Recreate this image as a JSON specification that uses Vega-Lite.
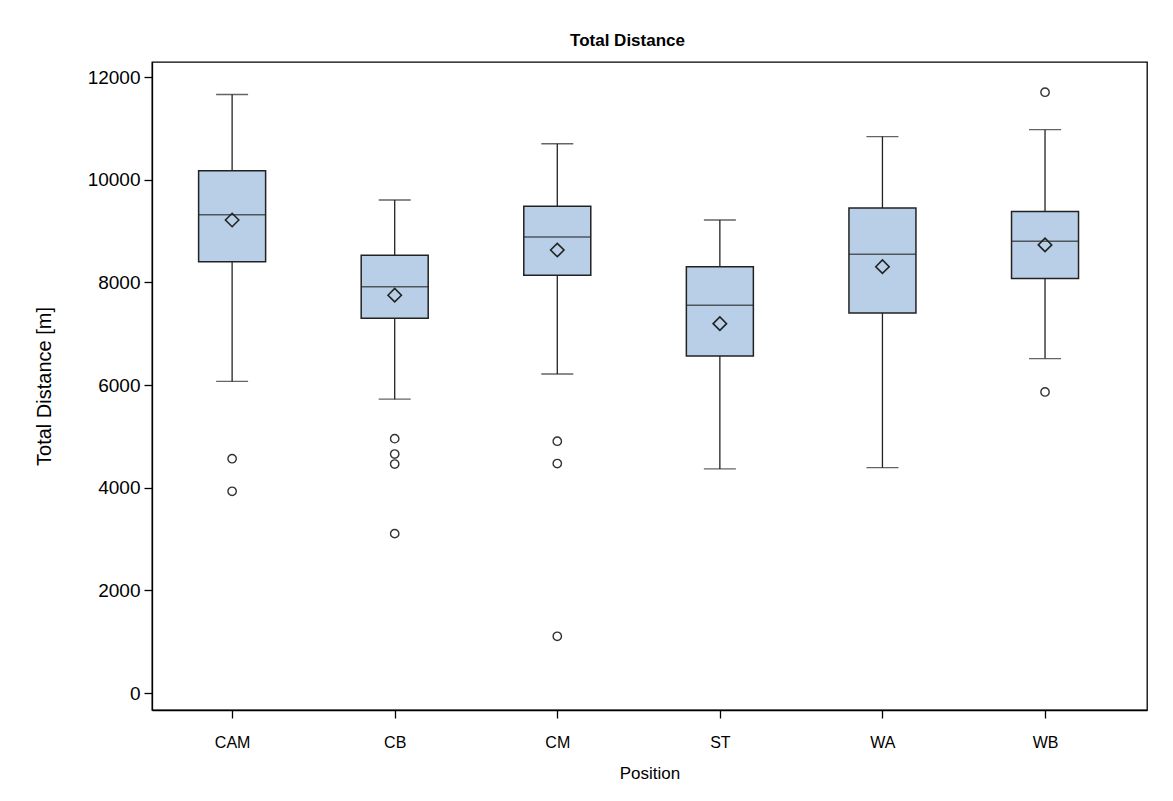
{
  "$schema": "https://vega.github.io/schema/vega-lite/v6.json",
  "width": 995,
  "height": 648,
  "autosize": {"type": "none"},
  "padding": {"left": 152, "top": 62, "right": 26, "bottom": 91},
  "background": "white",
  "title": {"text": "Total Distance", "fontSize": 17, "font": "Liberation Sans", "fontWeight": "bold", "color": "#000", "offset": 12, "anchor": "middle", "dx": -22},
  "datasets": {
    "stats": [
      {"pos": "CAM", "lo": 6070, "q1": 8400, "med": 9315, "q3": 10175, "hi": 11660, "mean": 9215},
      {"pos": "CB", "lo": 5725, "q1": 7300, "med": 7915, "q3": 8530, "hi": 9605, "mean": 7750},
      {"pos": "CM", "lo": 6215, "q1": 8140, "med": 8885, "q3": 9485, "hi": 10700, "mean": 8630},
      {"pos": "ST", "lo": 4365, "q1": 6565, "med": 7555, "q3": 8305, "hi": 9215, "mean": 7195},
      {"pos": "WA", "lo": 4390, "q1": 7405, "med": 8550, "q3": 9450, "hi": 10840, "mean": 8305},
      {"pos": "WB", "lo": 6515, "q1": 8075, "med": 8800, "q3": 9380, "hi": 10975, "mean": 8730}
    ],
    "outliers": [
      {"pos": "CAM", "value": 4565},
      {"pos": "CAM", "value": 3930},
      {"pos": "CB", "value": 4955},
      {"pos": "CB", "value": 4655},
      {"pos": "CB", "value": 4460},
      {"pos": "CB", "value": 3105},
      {"pos": "CM", "value": 4905},
      {"pos": "CM", "value": 4470},
      {"pos": "CM", "value": 1105},
      {"pos": "WB", "value": 11705},
      {"pos": "WB", "value": 5865}
    ]
  },
  "encoding": {
    "x": {
      "field": "pos", "type": "nominal", "title": "Position",
      "scale": {"type": "point", "domain": ["CAM", "CB", "CM", "ST", "WA", "WB"], "padding": 0.56, "align": 0.44},
      "axis": {"labelAngle": 0}
    }
  },
  "layer": [
    {
      "data": {"name": "stats"},
      "mark": {"type": "rule", "color": "#222", "strokeWidth": 1.3},
      "encoding": {
        "y": {"field": "lo", "type": "quantitative", "title": "Total Distance [m]", "scale": {"domain": [-331, 12293], "nice": false, "zero": false}, "axis": {"values": [0, 2000, 4000, 6000, 8000, 10000, 12000], "format": "d"}},
        "y2": {"field": "hi"}
      }
    },
    {
      "data": {"name": "stats"},
      "mark": {"type": "tick", "color": "#222", "size": 32, "thickness": 1.3},
      "encoding": {
        "y": {"field": "lo", "type": "quantitative", "title": "Total Distance [m]", "scale": {"domain": [-331, 12293], "nice": false, "zero": false}, "axis": {"values": [0, 2000, 4000, 6000, 8000, 10000, 12000], "format": "d"}}
      }
    },
    {
      "data": {"name": "stats"},
      "mark": {"type": "tick", "color": "#222", "size": 32, "thickness": 1.3},
      "encoding": {
        "y": {"field": "hi", "type": "quantitative", "title": "Total Distance [m]", "scale": {"domain": [-331, 12293], "nice": false, "zero": false}, "axis": {"values": [0, 2000, 4000, 6000, 8000, 10000, 12000], "format": "d"}}
      }
    },
    {
      "data": {"name": "stats"},
      "mark": {"type": "bar", "size": 67, "fill": "#b9cfe7", "stroke": "#222", "strokeWidth": 1.5},
      "encoding": {
        "y": {"field": "q1", "type": "quantitative", "title": "Total Distance [m]", "scale": {"domain": [-331, 12293], "nice": false, "zero": false}, "axis": {"values": [0, 2000, 4000, 6000, 8000, 10000, 12000], "format": "d"}},
        "y2": {"field": "q3"}
      }
    },
    {
      "data": {"name": "stats"},
      "mark": {"type": "tick", "color": "#222", "size": 67, "thickness": 1.5},
      "encoding": {
        "y": {"field": "med", "type": "quantitative", "title": "Total Distance [m]", "scale": {"domain": [-331, 12293], "nice": false, "zero": false}, "axis": {"values": [0, 2000, 4000, 6000, 8000, 10000, 12000], "format": "d"}}
      }
    },
    {
      "data": {"name": "stats"},
      "mark": {"type": "point", "shape": "diamond", "filled": false, "size": 180, "stroke": "#222", "strokeWidth": 1.6, "opacity": 1},
      "encoding": {
        "y": {"field": "mean", "type": "quantitative", "title": "Total Distance [m]", "scale": {"domain": [-331, 12293], "nice": false, "zero": false}, "axis": {"values": [0, 2000, 4000, 6000, 8000, 10000, 12000], "format": "d"}}
      }
    },
    {
      "data": {"name": "outliers"},
      "mark": {"type": "point", "shape": "circle", "filled": false, "size": 70, "stroke": "#333", "strokeWidth": 1.4, "opacity": 1},
      "encoding": {
        "y": {"field": "value", "type": "quantitative", "title": "Total Distance [m]", "scale": {"domain": [-331, 12293], "nice": false, "zero": false}, "axis": {"values": [0, 2000, 4000, 6000, 8000, 10000, 12000], "format": "d"}}
      }
    }
  ],
  "config": {
    "view": {"stroke": "#000", "strokeWidth": 1.3},
    "font": "Liberation Sans",
    "axis": {"grid": false, "domainColor": "#000", "tickColor": "#000", "labelColor": "#000", "titleColor": "#000", "labelFont": "Liberation Sans", "titleFont": "Liberation Sans", "titleFontWeight": "normal", "domainWidth": 1.3, "tickWidth": 1.3},
    "axisY": {"labelFontSize": 19, "titleFontSize": 20, "tickSize": 8, "labelPadding": 4, "titlePadding": 33},
    "axisX": {"labelFontSize": 16, "titleFontSize": 17, "tickSize": 8, "labelPadding": 16, "titlePadding": 15}
  }
}
